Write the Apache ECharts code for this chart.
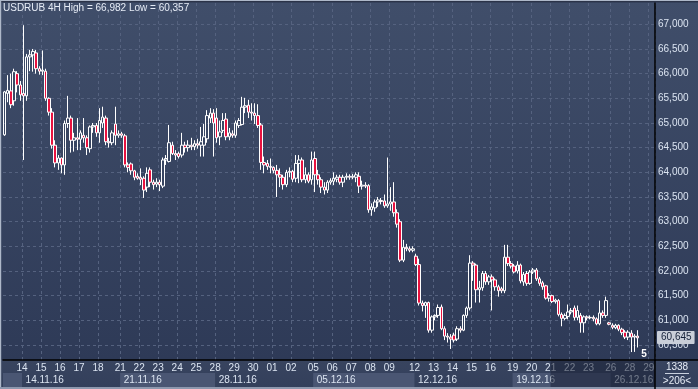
<!DOCTYPE html>
<html><head><meta charset="utf-8">
<script src="https://cdn.jsdelivr.net/npm/echarts@6/dist/echarts.min.js"></script>
<style>html,body{margin:0;padding:0;background:#2f3b58}#c{width:698px;height:389px}</style>
</head><body><div id="c"></div><script>
// ---- categories ----
const dayLabels = ['11','14','15','16','17','18','21','22','23','24','25','28','29','30','01','02',
  '05','06','07','08','09','12','13','14','15','16','19','20','21','22','23','26','28','29'];
const barsPerDay = [6,6,6,6,6,7,6,6,6,6,6,6,6,6,6,7,6,6,6,6,8,6,6,6,6,7,6,6,6,6,7,6,6,2];
const weekStartDays = [1,6,11,16,21,26,31];
const weekLabels = ['14.11.16','21.11.16','28.11.16','05.12.16','12.12.16','19.12.16','26.12.16'];
const yTickValues = [60.5,61,61.5,62,62.5,63,63.5,64,64.5,65,65.5,66,66.5,67];
const yRange = [60.196, 67.432];
const lastPrice = 60.645;
const titleText = 'USDRUB 4H High = 66,982 Low = 60,357';
// ---- OHLC rows: [open, close, low, high] ----
const nov11Bars = [
 [64.76,65.63,64.74,65.65],[65.60,65.66,65.42,65.97],[65.65,65.37,65.30,66.00],[65.45,66.04,65.35,66.10],
 [66.00,65.77,65.62,66.05],[65.77,65.57,65.45,65.85]];
const week1Bars = [
 [65.60,65.55,64.25,66.982],[65.55,66.34,65.45,66.40],[66.34,66.38,66.05,66.48],[66.38,66.45,66.04,66.50],
 [66.42,66.10,66.00,66.48],[66.10,66.05,65.98,66.15],[66.05,66.07,65.97,66.47],[66.05,65.50,65.45,66.10],
 [65.50,65.22,65.15,65.52],[65.22,64.55,64.48,65.30],[64.55,64.19,64.10,64.65],[64.19,64.29,64.05,64.35],
 [64.29,64.15,63.98,64.30],[64.15,64.99,63.95,65.05],[64.99,65.10,64.90,65.55],[65.10,64.65,64.40,65.15],
 [64.65,64.70,64.42,64.80],[64.70,64.67,64.45,65.10],[64.67,64.80,64.45,64.85],[64.75,64.70,64.60,65.10],
 [64.70,64.50,64.35,64.75],[64.48,64.92,64.40,64.95],[64.92,64.95,64.80,65.00],[64.95,64.80,64.72,65.00],
 [64.80,65.05,64.60,65.30],[65.00,65.12,64.90,65.33],[65.10,64.62,64.55,65.15],[64.62,64.60,64.50,64.70],
 [64.60,64.80,64.55,64.85],[64.98,64.75,64.55,65.33],[64.75,64.78,64.70,64.85]];
const week2Bars = [
 [64.78,64.75,64.70,64.82],[64.74,64.15,64.10,64.78],[64.15,64.10,64.00,64.20],[64.17,64.03,63.95,64.20],
 [64.03,63.90,63.84,64.05],[63.92,63.88,63.85,63.98],[63.90,63.86,63.74,64.08],[63.88,63.64,63.48,63.92],
 [63.70,63.98,63.60,64.10],[64.05,63.80,63.70,64.10],[63.80,63.75,63.65,63.85],[63.76,63.80,63.70,63.88],
 [63.80,63.75,63.62,63.85],[63.72,64.25,63.68,64.30],[64.25,64.28,64.15,64.35],[64.22,64.60,64.20,64.96],
 [64.55,64.38,64.35,64.62],[64.38,64.35,64.25,64.45],[64.38,64.32,64.28,64.42],[64.35,64.55,64.30,64.80],
 [64.55,64.50,64.40,64.62],[64.50,64.55,64.42,64.65],[64.55,64.52,64.45,64.70],[64.52,64.58,64.45,64.65],
 [64.58,64.55,64.48,64.68],[64.55,64.62,64.32,64.92],[64.55,64.72,64.32,64.98],[64.68,65.15,64.60,65.26],
 [65.10,65.20,65.00,65.30],[65.20,65.00,64.32,65.28]];
const week3Bars = [
 [65.10,64.70,64.60,65.30],[64.72,64.82,64.55,65.05],[64.85,65.05,64.80,65.20],[65.08,64.72,64.65,65.20],
 [64.72,64.80,64.65,64.90],[64.78,64.75,64.70,64.85],[64.75,65.00,64.70,65.05],[64.95,65.05,64.90,65.10],
 [64.97,65.32,64.95,65.53],[65.32,65.35,65.20,65.51],[65.36,65.22,65.10,65.47],[65.22,65.20,65.05,65.40],
 [65.20,65.15,64.98,65.40],[65.15,64.95,64.90,65.38],[64.96,64.20,64.05,65.00],[64.20,64.15,63.98,64.32],
 [64.18,64.12,64.05,64.25],[64.12,64.10,63.98,64.28],[64.10,64.04,63.98,64.12],[64.04,63.95,63.50,64.15],
 [63.95,63.90,63.70,64.08],[63.90,63.75,63.65,63.95],[63.75,64.00,63.70,64.05],[64.00,64.02,63.90,64.10],
 [64.02,63.86,63.80,64.05],[63.88,64.18,63.80,64.35],[64.18,64.25,63.78,64.35],[64.25,63.85,63.80,64.30],
 [63.85,63.95,63.78,64.10],[63.95,63.82,63.78,64.00],[63.85,64.25,63.75,64.42]];
const week4Bars = [
 [64.28,63.95,63.60,64.42],[63.95,63.85,63.75,64.05],[63.85,63.70,63.58,63.90],[63.70,63.64,63.55,63.80],
 [63.64,63.80,63.58,63.84],[63.80,63.83,63.75,63.88],[63.82,63.88,63.74,64.00],[63.86,63.90,63.80,63.95],
 [63.90,63.80,63.75,63.95],[63.80,63.90,63.70,63.95],[63.90,63.92,63.85,63.98],[63.92,63.90,63.85,63.96],
 [63.90,63.92,63.86,63.97],[63.90,63.95,63.80,64.00],[63.92,63.72,63.58,64.00],[63.72,63.74,63.65,63.83],
 [63.74,63.72,63.68,63.80],[63.73,63.24,63.18,63.76],[63.24,63.30,63.12,63.37],[63.28,63.40,63.20,63.45],
 [63.40,63.44,63.30,63.50],[63.43,63.41,63.35,63.48],[63.42,63.32,63.28,63.55],[63.32,63.36,63.28,64.30],
 [63.36,63.40,63.22,63.70],[63.40,63.18,63.10,63.80],[63.18,62.95,62.88,63.25],[63.00,62.22,62.18,63.05],
 [62.22,62.48,62.18,62.63],[62.48,62.45,62.40,62.55],[62.45,62.42,62.38,62.50],[62.42,62.45,62.38,62.50]];
const week5Bars = [
 [62.30,62.13,62.10,62.35],[62.13,61.35,61.30,62.25],[61.35,61.30,61.18,61.40],[61.30,61.36,61.05,61.38],
 [61.36,60.80,60.75,61.38],[60.80,61.07,60.75,61.10],[61.07,61.10,61.00,61.12],[61.10,61.26,61.05,61.32],
 [61.27,60.83,60.80,61.32],[60.83,60.68,60.60,60.88],[60.68,60.66,60.55,60.74],[60.66,60.62,60.42,60.72],
 [60.70,60.60,60.55,60.75],[60.62,60.83,60.58,60.88],[60.83,60.80,60.75,60.88],[60.80,61.10,60.78,61.12],
 [61.10,61.25,61.05,61.28],[61.25,62.16,61.20,62.32],[62.16,62.12,61.80,62.20],[62.12,61.62,61.36,62.15],
 [61.62,61.66,61.36,61.80],[61.66,61.95,61.60,62.00],[61.95,61.78,61.72,62.00],[61.78,61.88,61.72,61.92],
 [61.88,61.82,61.20,61.93],[61.82,61.68,61.60,61.85],[61.68,61.60,61.48,61.72],[61.64,61.60,61.55,61.68],
 [61.60,62.28,61.55,62.53],[62.28,62.15,62.10,62.53],[62.15,62.10,62.05,62.20]];
const week6Bars = [
 [62.10,61.98,61.95,62.14],[62.00,62.12,61.95,62.20],[62.12,61.80,61.75,62.15],[61.78,61.93,61.70,61.98],
 [61.95,61.75,61.70,62.00],[61.75,61.98,61.72,62.02],[61.98,62.02,61.94,62.06],[62.02,61.84,61.80,62.06],
 [61.84,61.75,61.70,61.88],[61.76,61.68,61.62,61.80],[61.70,61.45,61.42,61.72],[61.45,61.50,61.38,61.55],
 [61.50,61.38,61.35,61.52],[61.38,61.41,61.34,61.44],[61.40,61.12,61.08,61.43],[61.12,61.04,60.88,61.16],
 [61.04,61.10,61.00,61.14],[61.08,61.17,61.02,61.32],[61.17,61.20,61.12,61.25],[61.25,61.06,61.00,61.30],
 [61.06,61.20,61.00,61.30],[61.10,60.95,60.75,61.15],[60.95,61.07,60.75,61.10],[61.07,61.05,61.00,61.10],
 [61.05,61.06,61.02,61.10],[61.06,61.03,60.98,61.10],[61.03,60.93,60.90,61.06],[60.93,61.15,60.90,61.40],
 [61.15,61.10,61.05,61.20],[61.10,61.40,61.05,61.48],[60.95,60.92,60.90,60.97]];
const week7Bars = [
 [60.90,60.86,60.82,60.94],[60.85,60.90,60.82,60.93],[60.90,60.82,60.78,60.92],[60.82,60.75,60.70,60.85],
 [60.76,60.66,60.62,60.80],[60.66,60.76,60.60,60.80],[60.74,60.66,60.357,60.80],[60.66,60.68,60.36,60.72],
 [60.68,60.645,60.45,60.80]];

const candles = [].concat(nov11Bars, week1Bars, week2Bars, week3Bars, week4Bars, week5Bars, week6Bars, week7Bars);

// ---- build category axis ----
const cats = [], dayStart = new Set(), firstBarOfDay = [], dayOfCat = [];
dayLabels.forEach((d, di) => {
  firstBarOfDay.push(cats.length);
  dayStart.add(cats.length);
  for (let k = 0; k < barsPerDay[di]; k++) { cats.push(di + '_' + k); dayOfCat.push(di); }
});
const weekAt = new Map();
weekStartDays.forEach((di, wi) => weekAt.set(firstBarOfDay[di], weekLabels[wi]));

const FONT = '"Liberation Sans", Arial, sans-serif';
const TXT = '#dbe4f1';
const GRID = '#55627f';
const fmt = v => Number(v).toFixed(3).replace('.', ',');

const chart = echarts.init(document.getElementById('c'), null, {renderer: 'canvas', width: 698, height: 389});
chart.setOption({
  animation: false,
  backgroundColor: {type: 'linear', x: 0, y: 0, x2: 0, y2: 1, colorStops: [
    {offset: 0, color: '#404e6a'}, {offset: 0.925, color: '#2e3a57'},
    {offset: 0.926, color: '#38445f'}, {offset: 1, color: '#333f5b'}]},
  title: {text: titleText, left: 3, top: 3, padding: 0,
    textStyle: {color: '#e6ecf6', fontSize: 10, fontWeight: 'normal', fontFamily: FONT}},
  grid: [{left: 3, right: 43, top: 3, bottom: 29}, {left: 3, right: 43, top: 373, height: 14}],
  xAxis: [
    {type: 'category', data: cats, gridIndex: 0, boundaryGap: true,
     axisLine: {show: true, lineStyle: {color: '#000', width: 1.5}}, axisTick: {show: false},
     axisLabel: {interval: i => dayStart.has(i) && i > 0, formatter: (v, i) => dayLabels[dayOfCat[i]],
       color: TXT, fontSize: 10, margin: 3, fontFamily: FONT, padding: [0, 3, 0, 0]},
     splitLine: {show: true, interval: i => dayStart.has(i) && i > 0,
       lineStyle: {color: GRID, type: [3, 3], width: 1}}},
    {type: 'category', data: cats, gridIndex: 1, boundaryGap: true, position: 'top',
     axisLine: {show: false}, axisTick: {show: false}, splitLine: {show: false},
     axisLabel: {inside: true, interval: i => weekAt.has(i), formatter: (v, i) => weekAt.get(i) || '',
       align: 'left', verticalAlign: 'top', color: TXT, fontSize: 10, margin: 2, fontFamily: FONT, padding: [0, 0, 0, 2]},
     splitArea: {show: true, interval: i => weekAt.has(i),
       areaStyle: {color: ['#4a5673', 'rgba(0,0,0,0)']}}}
  ],
  yAxis: [
    {type: 'value', gridIndex: 0, position: 'right', min: yRange[0], max: yRange[1], splitNumber: 14,
     axisLine: {show: true, lineStyle: {color: '#000', width: 1.5}},
     axisTick: {show: false, customValues: yTickValues},
     axisLabel: {customValues: yTickValues, formatter: fmt, color: TXT, fontSize: 10, margin: 3, fontFamily: FONT},
     splitLine: {show: true, lineStyle: {color: GRID, type: [3, 3], width: 1}}},
    {type: 'value', gridIndex: 1, show: false}
  ],
  series: [{
    type: 'candlestick', xAxisIndex: 0, yAxisIndex: 0, data: candles, barWidth: 3,
    itemStyle: {color: 'rgba(0,0,0,0)', color0: '#e8123f', borderColor: '#ffffff', borderColor0: '#ffffff', borderWidth: 1},
    markLine: {silent: true, symbol: 'none', animation: false,
      data: [{yAxis: lastPrice}],
      lineStyle: {color: 'rgba(0,0,0,0)', width: 0},
      label: {show: true, position: 'end', distance: 2, formatter: () => fmt(lastPrice),
        backgroundColor: '#c9ced8', color: '#16223a', fontSize: 10, fontFamily: FONT,
        padding: [2, 3, 1, 4], borderRadius: 1}}
  }]
});

// decorations (frame, panel texts, overlay)
const band = 652 / cats.length;
const ovX = chart.convertToPixel({xAxisIndex: 0}, cats[173]) - band / 2;
chart.setOption({graphic: [
  {type: 'rect', z: 100, shape: {x: 0, y: 0, width: 698, height: 1.3}, style: {fill: '#aeb8c9'}},
  {type: 'rect', z: 100, shape: {x: 0, y: 1.3, width: 698, height: 1}, style: {fill: '#1b2235'}},
  {type: 'rect', z: 100, shape: {x: 0, y: 0, width: 1.2, height: 389}, style: {fill: '#aeb8c9'}},
  {type: 'rect', z: 100, shape: {x: 0, y: 387, width: 698, height: 2}, style: {fill: '#8d98ae'}},
  {type: 'rect', z: 100, shape: {x: ovX, y: 361, width: 655 - ovX, height: 26}, style: {fill: 'rgba(26,33,52,0.55)'}},
  {type: 'line', z: 100, shape: {x1: 655, y1: 360, x2: 655, y2: 389}, style: {stroke: '#000', lineWidth: 1.5}},
  {type: 'line', z: 100, shape: {x1: 655, y1: 360, x2: 698, y2: 360}, style: {stroke: '#000', lineWidth: 1.5}},
  {type: 'text', z: 100, x: 677, y: 367, style: {text: '1338', fill: '#e6ecf6', font: '10px ' + FONT, align: 'center', verticalAlign: 'middle'}},
  {type: 'line', z: 100, shape: {x1: 665, y1: 373.5, x2: 689, y2: 373.5}, style: {stroke: '#c9d1de', lineWidth: 1}},
  {type: 'text', z: 100, x: 677, y: 381, style: {text: '>206<', fill: '#e6ecf6', font: '10px ' + FONT, align: 'center', verticalAlign: 'middle'}},
  {type: 'text', z: 100, x: 644, y: 354.5, style: {text: '5', fill: '#ffffff', font: 'bold 10px ' + FONT, align: 'center', verticalAlign: 'middle'}}
]});
</script></body></html>
